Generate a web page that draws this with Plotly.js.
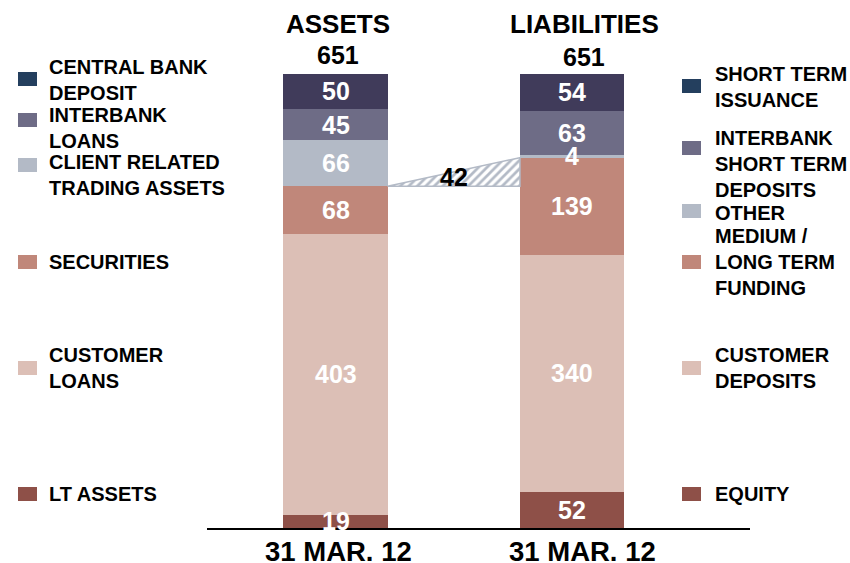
<!DOCTYPE html>
<html>
<head>
<meta charset="utf-8">
<script src="https://cdn.plot.ly/plotly-3.0.1.min.js"></script>
<style>html,body{margin:0;padding:0;background:#fff;}#chart{width:850px;height:563px;}</style>
</head>
<body>
<div id="chart"></div>
<script>
// ---- data ----
var columnTitles = ['ASSETS', 'LIABILITIES'];
var columnTotals = [651, 651];
var dateLabels = ['31 MAR. 12', '31 MAR. 12'];

var assetNames = ['LT ASSETS', 'CUSTOMER<br>LOANS', 'SECURITIES', 'CLIENT RELATED<br>TRADING ASSETS', 'INTERBANK<br>LOANS', 'CENTRAL BANK<br>DEPOSIT'];
var assetValues = [19, 403, 68, 66, 45, 50];

var liabNames = ['EQUITY', 'CUSTOMER<br>DEPOSITS', 'MEDIUM /<br>LONG TERM<br>FUNDING', 'OTHER', 'INTERBANK<br>SHORT TERM<br>DEPOSITS', 'SHORT TERM<br>ISSUANCE'];
var liabValues = [52, 340, 139, 4, 63, 54];

var gapLabel = 42;

// ---- styles ----
var W = 850, H = 563;
var barColors = ['#8e5048', '#dcbfb6', '#c0877a', '#b3bac6', '#6e6c86', '#403b5a'];
var legendColors = ['#8e5048', '#dcbfb6', '#c0877a', '#b3bac6', '#6e6c86', '#243f5e'];
var FONT = '"Liberation Sans", Arial, sans-serif';
var BW = 0.44;

// legend layout (pixel centres)
var leftLegendText = [494, 368, 262, 175, 128, 80];
var leftLegendBox = [494, 368, 262, 165, 120, 79];
var rightLegendText = [494, 368, 262, 213, 164, 87];
var rightLegendBox = [494, 368, 262, 211, 148, 86];

var traces = [];
for (var i = 0; i < assetValues.length; i++) {
  traces.push({
    type: 'bar', x: [0, 1], y: [assetValues[i], liabValues[i]],
    width: BW, marker: {color: barColors[i], line: {width: 0}},
    hoverinfo: 'skip', showlegend: false
  });
}

// hatched connector between assets securities top and liabilities funding top
function cum(arr, n) { var s = 0; for (var k = 0; k < n; k++) s += arr[k]; return s; }
var yLow = cum(assetValues, 3);
var yHigh = cum(liabValues, 3);
traces.push({
  type: 'scatter', mode: 'lines',
  x: [BW / 2, 1 - BW / 2, 1 - BW / 2, BW / 2],
  y: [yLow, yLow, yHigh, yLow],
  fill: 'toself', fillcolor: 'rgba(0,0,0,0)',
  fillpattern: {shape: '/', fgcolor: '#b3bac6', bgcolor: '#ffffff', size: 6, solidity: 0.45},
  line: {color: '#b3bac6', width: 1.5},
  hoverinfo: 'skip', showlegend: false
});

var annotations = [];
// segment labels
function segLabels(vals, xi) {
  var base = 0;
  for (var k = 0; k < vals.length; k++) {
    annotations.push({
      x: xi, y: base + vals[k] / 2, xref: 'x', yref: 'y',
      text: String(vals[k]), showarrow: false,
      font: {family: FONT, size: 25, color: '#ffffff', weight: 700},
      xanchor: 'center', yanchor: 'middle'
    });
    base += vals[k];
  }
}
segLabels(assetValues, 0);
segLabels(liabValues, 1);

annotations.push({
  x: 0.5, y: yLow + (yHigh - yLow) * 0.32, xref: 'x', yref: 'y',
  text: String(gapLabel), showarrow: false,
  font: {family: FONT, size: 25, color: '#000000', weight: 700},
  xanchor: 'center', yanchor: 'middle'
});

// column titles and totals
var titleX = [338 / W, 584 / W];
var totalY = [55, 57];
for (var c = 0; c < 2; c++) {
  annotations.push({
    x: titleX[c], y: 1 - 24 / H, xref: 'paper', yref: 'paper',
    text: columnTitles[c], showarrow: false,
    font: {family: FONT, size: 26, color: '#000000', weight: 700},
    xanchor: 'center', yanchor: 'middle'
  });
  annotations.push({
    x: titleX[c], y: 1 - totalY[c] / H, xref: 'paper', yref: 'paper',
    text: String(columnTotals[c]), showarrow: false,
    font: {family: FONT, size: 25, color: '#000000', weight: 700},
    xanchor: 'center', yanchor: 'middle'
  });
}
// date labels
var dateShift = [3, 10];
for (var d = 0; d < 2; d++) {
  annotations.push({
    x: d, y: 1 - 551 / H, xref: 'x', yref: 'paper', xshift: dateShift[d],
    text: dateLabels[d], showarrow: false,
    font: {family: FONT, size: 27.5, color: '#000000', weight: 700},
    xanchor: 'center', yanchor: 'middle'
  });
}

// custom legends
var shapes = [];
function legendItem(name, color, textY, boxY, boxX, textX) {
  annotations.push({
    x: textX / W, y: 1 - textY / H, xref: 'paper', yref: 'paper',
    text: name, showarrow: false, align: 'left',
    font: {family: FONT, size: 20, color: '#000000', weight: 700},
    xanchor: 'left', yanchor: 'middle'
  });
  shapes.push({
    type: 'rect', xref: 'paper', yref: 'paper',
    x0: boxX / W, x1: (boxX + 19) / W,
    y0: 1 - (boxY + 7) / H, y1: 1 - (boxY - 7) / H,
    fillcolor: color, line: {width: 0}
  });
}
for (var j = 0; j < assetNames.length; j++) {
  legendItem(assetNames[j], legendColors[j], leftLegendText[j], leftLegendBox[j], 18, 47);
  legendItem(liabNames[j], legendColors[j], rightLegendText[j], rightLegendBox[j], 682, 713);
}

var layout = {
  width: W, height: H,
  margin: {l: 0, r: 0, t: 0, b: 0},
  paper_bgcolor: '#ffffff', plot_bgcolor: 'rgba(0,0,0,0)',
  barmode: 'stack', showlegend: false,
  xaxis: {
    domain: [207 / W, 750 / W], range: [-0.5433, 1.7526],
    showgrid: false, zeroline: false, showticklabels: false, ticks: '',
    showline: true, linecolor: '#000000', linewidth: 2, fixedrange: true
  },
  yaxis: {
    domain: [1 - 528 / H, 1 - 74 / H], range: [0, 651],
    showgrid: false, zeroline: false, showticklabels: false, ticks: '',
    showline: false, fixedrange: true
  },
  annotations: annotations,
  shapes: shapes
};

Plotly.newPlot('chart', traces, layout, {displayModeBar: false, staticPlot: true});
</script>
</body>
</html>
